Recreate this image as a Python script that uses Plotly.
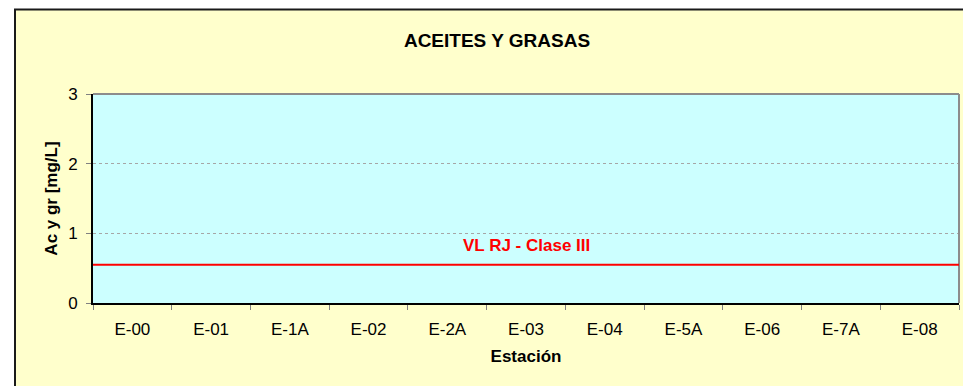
import plotly.graph_objects as go

# ---- data ----
estaciones = ["E-00", "E-01", "E-1A", "E-02", "E-2A", "E-03", "E-04", "E-5A", "E-06", "E-7A", "E-08"]
aceites_grasas = [None] * len(estaciones)   # no measured values shown
limite_valor = 0.55
limite_texto = "VL RJ - Clase III"
y_ticks = [0, 1, 2, 3]

FONT = "Arial, Liberation Sans, sans-serif"
W, H = 963, 386
L, R, T, B = 93, 4, 94, 83
pw, ph = W - L - R, H - T - B

def px_x(p):
    return (p - L) / pw

def px_y(p):
    return (H - B - p) / ph

fig = go.Figure()
fig.add_trace(go.Scatter(x=estaciones, y=aceites_grasas, mode="markers",
                         showlegend=False, hoverinfo="skip"))

# outer chart frame (yellow)
fig.add_shape(type="rect", xref="paper", yref="paper",
              x0=px_x(15), x1=px_x(990), y0=px_y(420), y1=px_y(9.5),
              fillcolor="#FFFFCC", line=dict(color="#1a1a1a", width=2), layer="below")
# plot area fill (cyan)
fig.add_shape(type="rect", xref="paper", yref="paper", x0=0, x1=1, y0=0, y1=1,
              fillcolor="#CCFFFF", line=dict(width=0), layer="below")

# plot-area top and right border (gray)
fig.add_shape(type="line", xref="paper", yref="paper", x0=0, x1=1, y0=1, y1=1,
              line=dict(color="#8c8c8c", width=2))
fig.add_shape(type="line", xref="paper", yref="paper", x0=1, x1=1, y0=0, y1=1,
              line=dict(color="#8c8c8c", width=2))

# limit line
fig.add_hline(y=limite_valor, line=dict(color="#FF0000", width=2))
fig.add_annotation(x=0.5, xref="paper", y=limite_valor, yref="y", yshift=19,
                   text=f"<b>{limite_texto}</b>", showarrow=False,
                   font=dict(family=FONT, size=17, color="#FF0000"))

fig.update_layout(
    width=W, height=H,
    margin=dict(l=L, r=R, t=T, b=B),
    paper_bgcolor="white",
    plot_bgcolor="rgba(0,0,0,0)",
    hovermode=False,
    title=dict(text="<b>ACEITES Y GRASAS</b>", xref="container", yref="container",
               x=497 / W, y=1 - 40 / H, xanchor="center", yanchor="middle",
               font=dict(family=FONT, size=19, color="black")),
    font=dict(family=FONT, size=17, color="black"),
    showlegend=False,
)

fig.update_xaxes(
    type="category", categoryorder="array", categoryarray=estaciones,
    range=[-0.5, len(estaciones) - 0.5],
    showgrid=False, zeroline=False,
    showline=True, linecolor="black", linewidth=2,
    ticks="outside", tickson="boundaries", ticklen=5, tickcolor="#808080",
    ticklabelstandoff=10,
    tickfont=dict(family=FONT, size=17, color="black"),
    title=dict(text="<b>Estación</b>", standoff=12,
               font=dict(family=FONT, size=17, color="black")),
)
fig.update_yaxes(
    range=[0, 3], tickvals=y_ticks,
    showgrid=True, gridcolor="#a6a6a6", griddash="dot", gridwidth=1,
    zeroline=False,
    showline=True, linecolor="black", linewidth=2,
    ticks="outside", ticklen=5, tickcolor="#808080",
    ticklabelstandoff=5,
    tickfont=dict(family=FONT, size=17, color="black"),
    title=dict(text="<b>Ac y gr [mg/L]</b>", standoff=6,
               font=dict(family=FONT, size=17, color="black")),
)

fig.write_html(
    "out.html",
    config={"displayModeBar": False, "staticPlot": True},
    post_script="document.body.style.margin='0';document.body.style.overflow='hidden';",
)
